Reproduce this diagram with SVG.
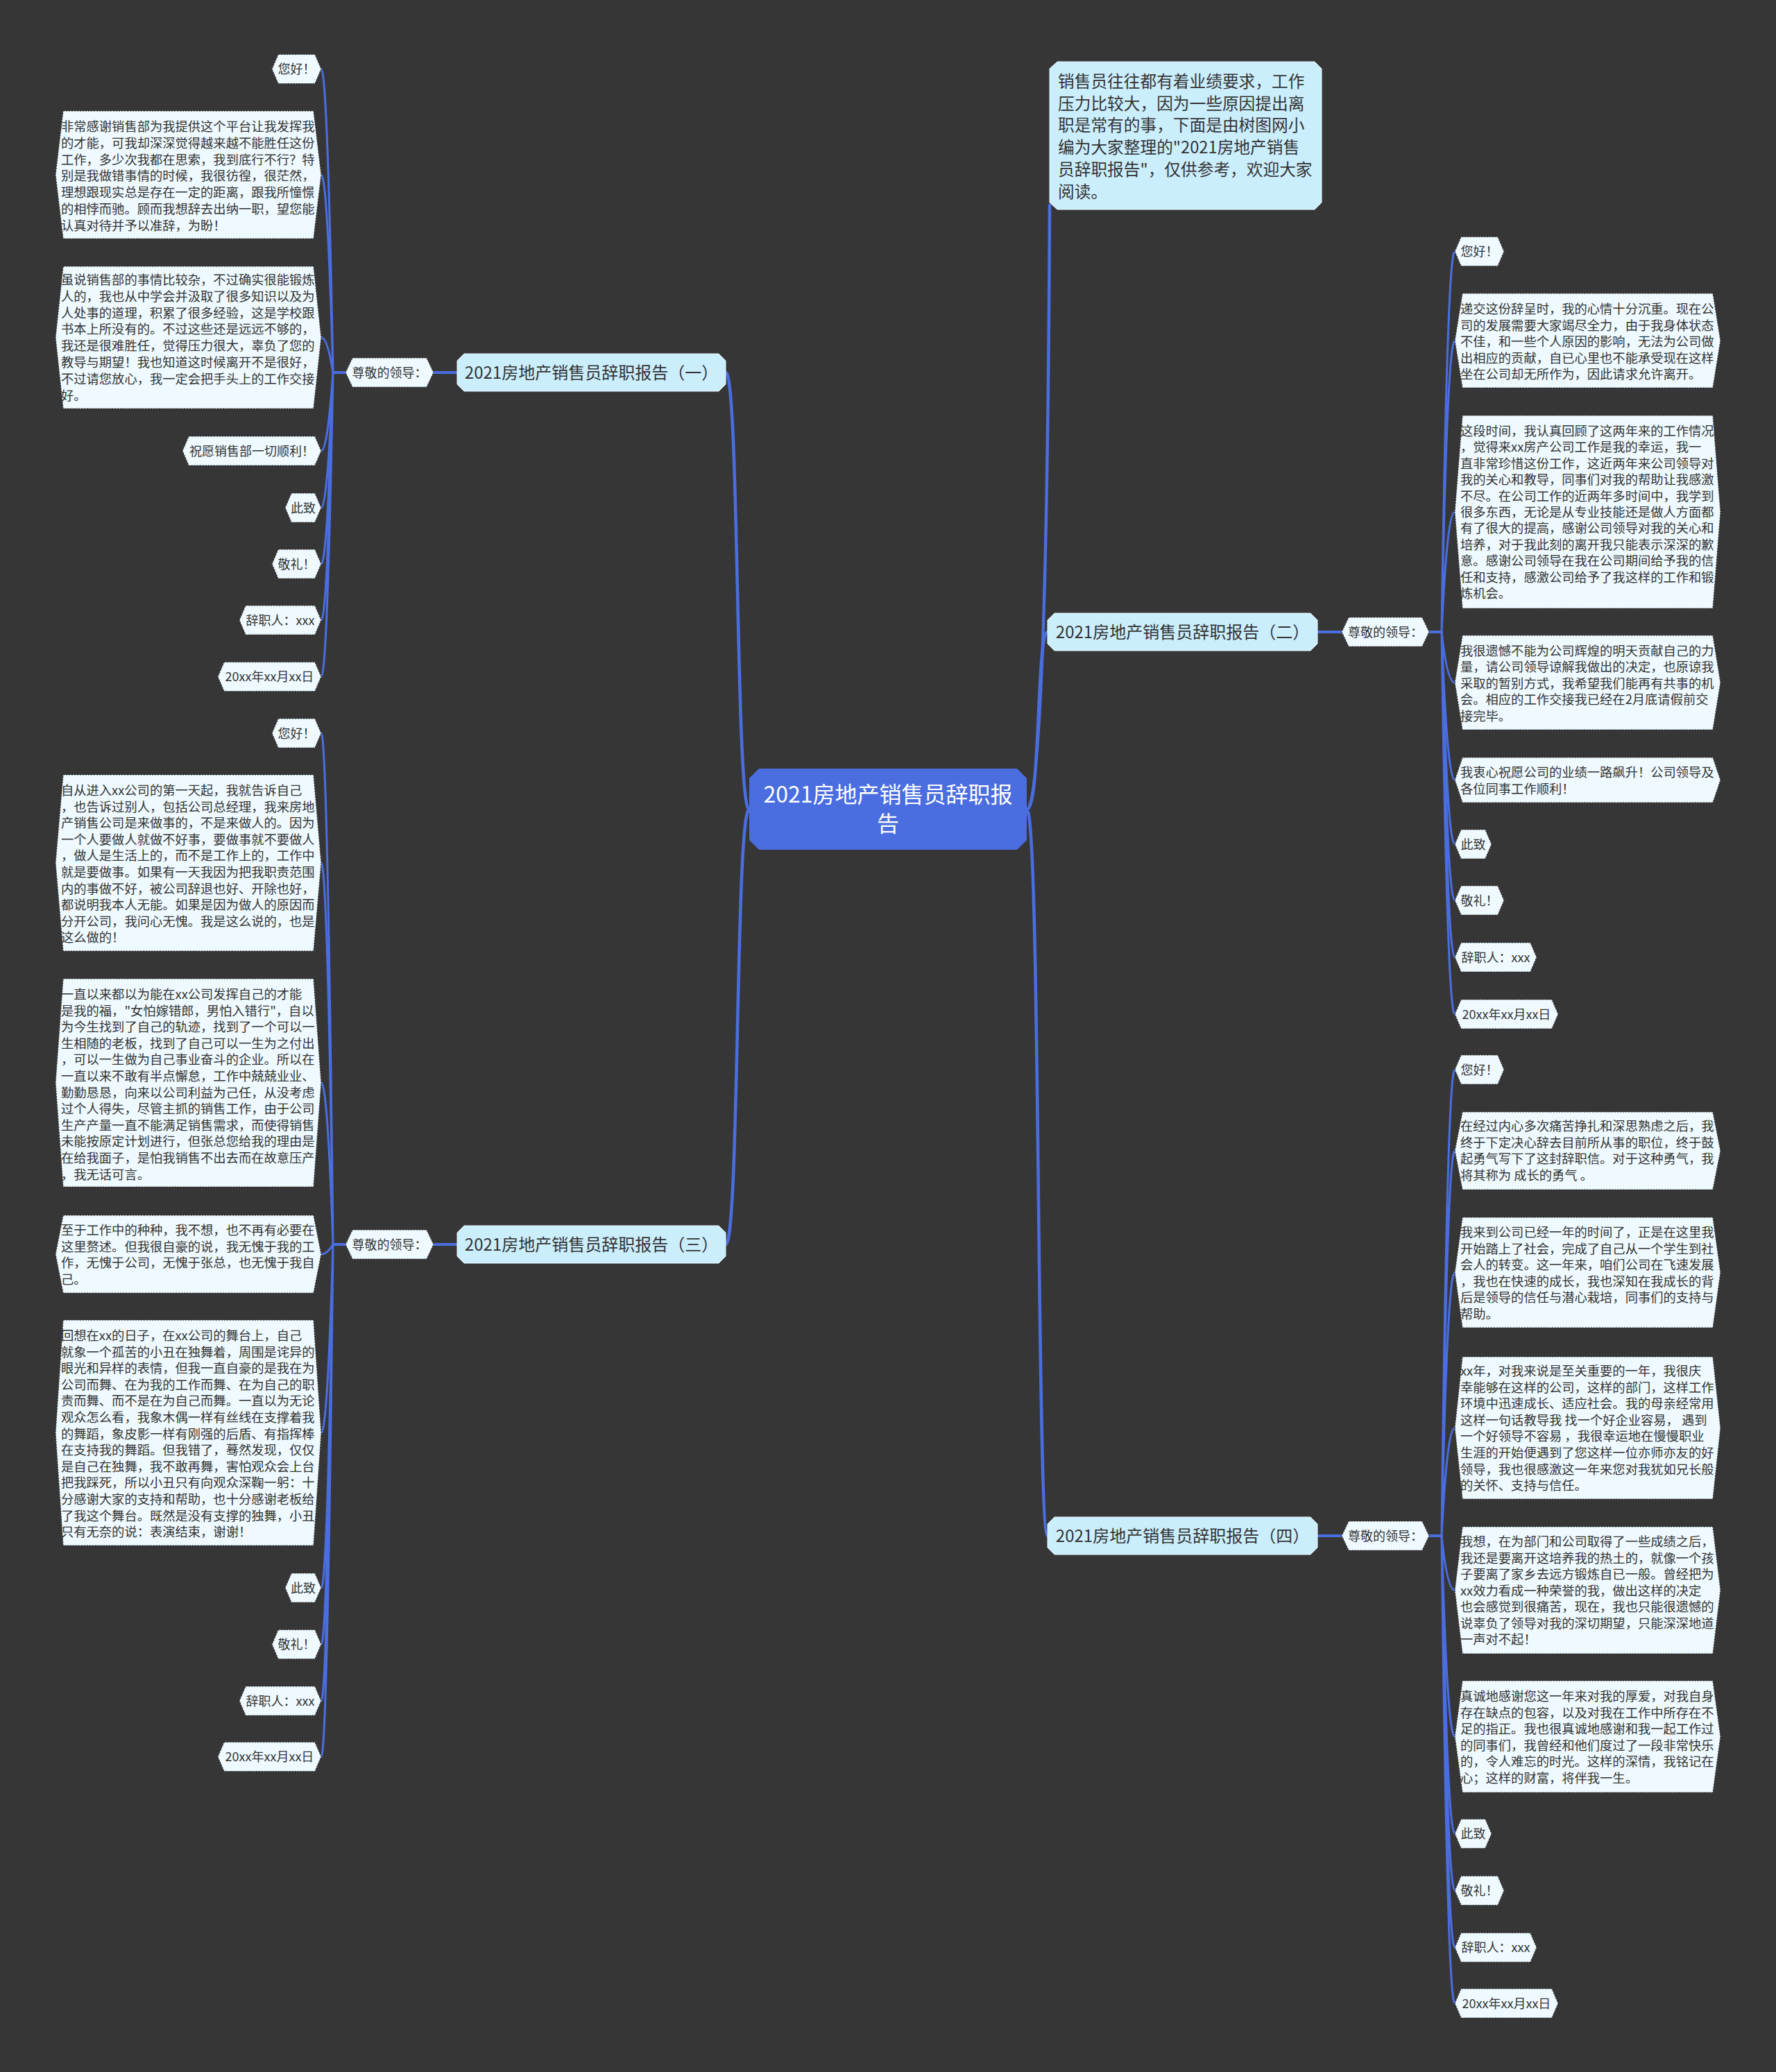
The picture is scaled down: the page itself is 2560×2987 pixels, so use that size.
<svg xmlns="http://www.w3.org/2000/svg" width="2560" height="2987" viewBox="0 0 2560 2987">
<style>
.t{font-family:"Noto Sans CJK SC","Liberation Sans",sans-serif;fill:#333333;font-size:18.3px}
.s{font-family:"Noto Sans CJK SC","Liberation Sans",sans-serif;fill:#333333;font-size:18px;text-anchor:middle}
.b{font-family:"Noto Sans CJK SC","Liberation Sans",sans-serif;fill:#333333;font-size:24px;text-anchor:middle}
.leaf{fill:#eefaff;stroke:#2e2e2e;stroke-width:1.2;stroke-dasharray:2 2}
.br{fill:#cbeefd;stroke:#e6f7fe;stroke-width:1}
.lk{fill:none;stroke:#4a6ee0;stroke-linecap:round}
.l1{stroke-width:4.5}
.l2{stroke-width:4}
.l3{stroke-width:3}
</style>
<rect x="0" y="0" width="2560" height="2987" fill="#373637"/>
<g id="connectors">
<path class="lk l1" d="M1080,1167 C1060,1167 1066,537 1046,537"/>
<path class="lk l1" d="M1080,1167 C1060,1167 1066,1794 1046,1794"/>
<path class="lk l1" d="M1480,1167 C1500,1167 1494,911 1510,911"/>
<path class="lk l1" d="M1480,1167 C1500,1167 1494,2214 1510,2214"/>
<path class="lk l1" d="M1480,1167 C1508,1167 1512,500 1513,296"/>
<path class="lk l2" d="M659,537 L625,537 M498,537 L480,537"/>
<path class="lk l2" d="M659,1794 L625,1794 M498,1794 L480,1794"/>
<path class="lk l2" d="M1899,911 L1934,911 M2060,911 L2078,911"/>
<path class="lk l2" d="M1899,2214 L1934,2214 M2060,2214 L2078,2214"/>
<path class="lk l3" d="M480,537 Q472,99.5 463,99.5 M480,537 Q472,252 463,252 M480,537 Q472,486.5 463,486.5 M480,537 Q472,650 463,650 M480,537 Q472,732 463,732 M480,537 Q472,813 463,813 M480,537 Q472,894 463,894 M480,537 Q472,975.5 463,975.5"/>
<path class="lk l3" d="M480,1794 Q472,1057 463,1057 M480,1794 Q472,1244 463,1244 M480,1794 Q472,1561 463,1561 M480,1794 Q472,1808 463,1808 M480,1794 Q472,2065.5 463,2065.5 M480,1794 Q472,2289 463,2289 M480,1794 Q472,2370.5 463,2370.5 M480,1794 Q472,2452 463,2452 M480,1794 Q472,2532.5 463,2532.5"/>
<path class="lk l3" d="M2078,911 Q2086,362.5 2097,362.5 M2078,911 Q2086,491 2097,491 M2078,911 Q2086,738 2097,738 M2078,911 Q2086,984 2097,984 M2078,911 Q2086,1124.5 2097,1124.5 M2078,911 Q2086,1217 2097,1217 M2078,911 Q2086,1298 2097,1298 M2078,911 Q2086,1380 2097,1380 M2078,911 Q2086,1462 2097,1462"/>
<path class="lk l3" d="M2078,2214 Q2086,1542 2097,1542 M2078,2214 Q2086,1659 2097,1659 M2078,2214 Q2086,1834.5 2097,1834.5 M2078,2214 Q2086,2058.5 2097,2058.5 M2078,2214 Q2086,2292.5 2097,2292.5 M2078,2214 Q2086,2503.5 2097,2503.5 M2078,2214 Q2086,2643.5 2097,2643.5 M2078,2214 Q2086,2725.5 2097,2725.5 M2078,2214 Q2086,2807.5 2097,2807.5 M2078,2214 Q2086,2888 2097,2888"/>
</g>
<g id="center">
<polygon points="1094,1108 1466,1108 1480,1122 1480,1211 1466,1225 1094,1225 1080,1211 1080,1122" fill="#4a6ee0"/>
<text x="1280" y="1157" font-family="Noto Sans CJK SC, Liberation Sans, sans-serif" font-size="32" fill="#ffffff" text-anchor="middle">2021房地产销售员辞职报</text>
<text x="1280" y="1199" font-family="Noto Sans CJK SC, Liberation Sans, sans-serif" font-size="32" fill="#ffffff" text-anchor="middle">告</text>
</g>
<g id="intro">
<polygon points="1524,89 1895,89 1905,99 1905,292 1895,302 1524,302 1513,292 1513,99" class="br"/>
<text font-family="Noto Sans CJK SC, Liberation Sans, sans-serif" font-size="23.7" fill="#333333"><tspan x="1525" y="126">销售员往往都有着业绩要求，工作</tspan><tspan x="1525" dy="31.7">压力比较大，因为一些原因提出离</tspan><tspan x="1525" dy="31.7">职是常有的事，下面是由树图网小</tspan><tspan x="1525" dy="31.7">编为大家整理的"2021房地产销售</tspan><tspan x="1525" dy="31.7">员辞职报告"，仅供参考，欢迎大家</tspan><tspan x="1525" dy="31.7">阅读。</tspan></text>
</g>
<g id="branch1">
<polygon class="br" points="669,510 1036,510 1046,520 1046,554 1036,564 669,564 659,554 659,520"/>
<text class="b" x="852.5" y="546">2021房地产销售员辞职报告（一）</text>
</g>
<g id="branch3">
<polygon class="br" points="669,1767 1036,1767 1046,1777 1046,1811 1036,1821 669,1821 659,1811 659,1777"/>
<text class="b" x="852.5" y="1803">2021房地产销售员辞职报告（三）</text>
</g>
<g id="branch2">
<polygon class="br" points="1520,884 1889,884 1899,894 1899,928 1889,938 1520,938 1510,928 1510,894"/>
<text class="b" x="1704.5" y="920">2021房地产销售员辞职报告（二）</text>
</g>
<g id="branch4">
<polygon class="br" points="1520,2187 1889,2187 1899,2197 1899,2231 1889,2241 1520,2241 1510,2231 1510,2197"/>
<text class="b" x="1704.5" y="2223">2021房地产销售员辞职报告（四）</text>
</g>
<g id="sub1">
<polygon class="leaf" points="508,516 615,516 625,537 615,558 508,558 498,537"/>
<text class="s" x="561.5" y="543.5">尊敬的领导：</text>
</g>
<g id="sub3">
<polygon class="leaf" points="508,1773 615,1773 625,1794 615,1815 508,1815 498,1794"/>
<text class="s" x="561.5" y="1800.5">尊敬的领导：</text>
</g>
<g id="sub2">
<polygon class="leaf" points="1944,890 2050,890 2060,911 2050,932 1944,932 1934,911"/>
<text class="s" x="1997" y="917.5">尊敬的领导：</text>
</g>
<g id="sub4">
<polygon class="leaf" points="1944,2193 2050,2193 2060,2214 2050,2235 1944,2235 1934,2214"/>
<text class="s" x="1997" y="2220.5">尊敬的领导：</text>
</g>
<!-- branch 1 leaves -->
<g id="b1-hello"><polygon class="leaf" points="401,78.5 454,78.5 463,99.5 454,120.5 401,120.5 392,99.5"/><text class="s" x="427.5" y="106">您好！</text></g>
<g id="b1-p1"><polygon class="leaf" points="91,160 452,160 463,252 452,344 91,344 80,252"/>
<text class="t"><tspan x="88" y="189">非常感谢销售部为我提供这个平台让我发挥我</tspan><tspan x="88" dy="23.8">的才能，可我却深深觉得越来越不能胜任这份</tspan><tspan x="88" dy="23.8">工作，多少次我都在思索，我到底行不行？特</tspan><tspan x="88" dy="23.8">别是我做错事情的时候，我很彷徨，很茫然，</tspan><tspan x="88" dy="23.8">理想跟现实总是存在一定的距离，跟我所憧憬</tspan><tspan x="88" dy="23.8">的相悖而驰。顾而我想辞去出纳一职，望您能</tspan><tspan x="88" dy="23.8">认真对待并予以准辞，为盼！</tspan></text></g>
<g id="b1-p2"><polygon class="leaf" points="91,384 452,384 463,486.5 452,589 91,589 80,486.5"/>
<text class="t"><tspan x="88" y="410">虽说销售部的事情比较杂，不过确实很能锻炼</tspan><tspan x="88" dy="23.8">人的，我也从中学会并汲取了很多知识以及为</tspan><tspan x="88" dy="23.8">人处事的道理，积累了很多经验，这是学校跟</tspan><tspan x="88" dy="23.8">书本上所没有的。不过这些还是远远不够的，</tspan><tspan x="88" dy="23.8">我还是很难胜任，觉得压力很大，辜负了您的</tspan><tspan x="88" dy="23.8">教导与期望！我也知道这时候离开不是很好，</tspan><tspan x="88" dy="23.8">不过请您放心，我一定会把手头上的工作交接</tspan><tspan x="88" dy="23.8">好。</tspan></text></g>
<g id="b1-wish"><polygon class="leaf" points="272,629 454,629 463,650 454,671 272,671 263,650"/><text class="s" x="363" y="656.5">祝愿销售部一切顺利！</text></g>
<g id="b1-cizhi"><polygon class="leaf" points="420,711 454,711 463,732 454,753 420,753 411,732"/><text class="s" x="437" y="738.5">此致</text></g>
<g id="b1-jingli"><polygon class="leaf" points="401,792 454,792 463,813 454,834 401,834 392,813"/><text class="s" x="427.5" y="819.5">敬礼！</text></g>
<g id="b1-name"><polygon class="leaf" points="354,873 454,873 463,894 454,915 354,915 345,894"/><text class="s" x="404" y="900.5">辞职人：xxx</text></g>
<g id="b1-date"><polygon class="leaf" points="323,954.5 454,954.5 463,975.5 454,996.5 323,996.5 314,975.5"/><text class="s" x="388.5" y="982">20xx年xx月xx日</text></g>
<!-- branch 3 leaves -->
<g id="b3-hello"><polygon class="leaf" points="401,1036 454,1036 463,1057 454,1078 401,1078 392,1057"/><text class="s" x="427.5" y="1063.5">您好！</text></g>
<g id="b3-p1"><polygon class="leaf" points="91,1117 452,1117 463,1244 452,1371 91,1371 80,1244"/>
<text class="t"><tspan x="88" y="1146">自从进入xx公司的第一天起，我就告诉自己</tspan><tspan x="88" dy="23.6">，也告诉过别人，包括公司总经理，我来房地</tspan><tspan x="88" dy="23.6">产销售公司是来做事的，不是来做人的。因为</tspan><tspan x="88" dy="23.6">一个人要做人就做不好事，要做事就不要做人</tspan><tspan x="88" dy="23.6">，做人是生活上的，而不是工作上的，工作中</tspan><tspan x="88" dy="23.6">就是要做事。如果有一天我因为把我职责范围</tspan><tspan x="88" dy="23.6">内的事做不好，被公司辞退也好、开除也好，</tspan><tspan x="88" dy="23.6">都说明我本人无能。如果是因为做人的原因而</tspan><tspan x="88" dy="23.6">分开公司，我问心无愧。我是这么说的，也是</tspan><tspan x="88" dy="23.6">这么做的！</tspan></text></g>
<g id="b3-p2"><polygon class="leaf" points="91,1411 452,1411 463,1561 452,1711 91,1711 80,1561"/>
<text class="t"><tspan x="88" y="1440">一直以来都以为能在xx公司发挥自己的才能</tspan><tspan x="88" dy="23.6">是我的福，"女怕嫁错郎，男怕入错行"，自以</tspan><tspan x="88" dy="23.6">为今生找到了自己的轨迹，找到了一个可以一</tspan><tspan x="88" dy="23.6">生相随的老板，找到了自己可以一生为之付出</tspan><tspan x="88" dy="23.6">，可以一生做为自己事业奋斗的企业。所以在</tspan><tspan x="88" dy="23.6">一直以来不敢有半点懈怠，工作中兢兢业业、</tspan><tspan x="88" dy="23.6">勤勤恳恳，向来以公司利益为己任，从没考虑</tspan><tspan x="88" dy="23.6">过个人得失，尽管主抓的销售工作，由于公司</tspan><tspan x="88" dy="23.6">生产产量一直不能满足销售需求，而使得销售</tspan><tspan x="88" dy="23.6">未能按原定计划进行，但张总您给我的理由是</tspan><tspan x="88" dy="23.6">在给我面子，是怕我销售不出去而在故意压产</tspan><tspan x="88" dy="23.6">，我无话可言。</tspan></text></g>
<g id="b3-p3"><polygon class="leaf" points="91,1752 452,1752 463,1808 452,1864 91,1864 80,1808"/>
<text class="t"><tspan x="88" y="1780">至于工作中的种种，我不想，也不再有必要在</tspan><tspan x="88" dy="23.6">这里赘述。但我很自豪的说，我无愧于我的工</tspan><tspan x="88" dy="23.6">作，无愧于公司，无愧于张总，也无愧于我自</tspan><tspan x="88" dy="23.6">己。</tspan></text></g>
<g id="b3-p4"><polygon class="leaf" points="91,1903 452,1903 463,2065.5 452,2228 91,2228 80,2065.5"/>
<text class="t"><tspan x="88" y="1932">回想在xx的日子，在xx公司的舞台上，自己</tspan><tspan x="88" dy="23.6">就象一个孤苦的小丑在独舞着，周围是诧异的</tspan><tspan x="88" dy="23.6">眼光和异样的表情，但我一直自豪的是我在为</tspan><tspan x="88" dy="23.6">公司而舞、在为我的工作而舞、在为自己的职</tspan><tspan x="88" dy="23.6">责而舞、而不是在为自己而舞。一直以为无论</tspan><tspan x="88" dy="23.6">观众怎么看，我象木偶一样有丝线在支撑着我</tspan><tspan x="88" dy="23.6">的舞蹈，象皮影一样有刚强的后盾、有指挥棒</tspan><tspan x="88" dy="23.6">在支持我的舞蹈。但我错了，蓦然发现，仅仅</tspan><tspan x="88" dy="23.6">是自己在独舞，我不敢再舞，害怕观众会上台</tspan><tspan x="88" dy="23.6">把我踩死，所以小丑只有向观众深鞠一躬：十</tspan><tspan x="88" dy="23.6">分感谢大家的支持和帮助，也十分感谢老板给</tspan><tspan x="88" dy="23.6">了我这个舞台。既然是没有支撑的独舞，小丑</tspan><tspan x="88" dy="23.6">只有无奈的说：表演结束，谢谢！</tspan></text></g>
<g id="b3-cizhi"><polygon class="leaf" points="420,2268 454,2268 463,2289 454,2310 420,2310 411,2289"/><text class="s" x="437" y="2295.5">此致</text></g>
<g id="b3-jingli"><polygon class="leaf" points="401,2349.5 454,2349.5 463,2370.5 454,2391.5 401,2391.5 392,2370.5"/><text class="s" x="427.5" y="2377">敬礼！</text></g>
<g id="b3-name"><polygon class="leaf" points="354,2431 454,2431 463,2452 454,2473 354,2473 345,2452"/><text class="s" x="404" y="2458.5">辞职人：xxx</text></g>
<g id="b3-date"><polygon class="leaf" points="323,2511.5 454,2511.5 463,2532.5 454,2553.5 323,2553.5 314,2532.5"/><text class="s" x="388.5" y="2539">20xx年xx月xx日</text></g>
<!-- branch 2 leaves -->
<g id="b2-hello"><polygon class="leaf" points="2097,362.5 2106,341.5 2159,341.5 2168,362.5 2159,383.5 2106,383.5"/><text class="s" x="2132.5" y="369">您好！</text></g>
<g id="b2-p1"><polygon class="leaf" points="2097,491 2108,423 2469,423 2480,491 2469,559 2108,559"/>
<text class="t"><tspan x="2105" y="452">递交这份辞呈时，我的心情十分沉重。现在公</tspan><tspan x="2105" dy="23.6">司的发展需要大家竭尽全力，由于我身体状态</tspan><tspan x="2105" dy="23.6">不佳，和一些个人原因的影响，无法为公司做</tspan><tspan x="2105" dy="23.6">出相应的贡献，自已心里也不能承受现在这样</tspan><tspan x="2105" dy="23.6">坐在公司却无所作为，因此请求允许离开。</tspan></text></g>
<g id="b2-p2"><polygon class="leaf" points="2097,738 2108,599 2469,599 2480,738 2469,877 2108,877"/>
<text class="t"><tspan x="2105" y="628">这段时间，我认真回顾了这两年来的工作情况</tspan><tspan x="2105" dy="23.4">，觉得来xx房产公司工作是我的幸运，我一</tspan><tspan x="2105" dy="23.4">直非常珍惜这份工作，这近两年来公司领导对</tspan><tspan x="2105" dy="23.4">我的关心和教导，同事们对我的帮助让我感激</tspan><tspan x="2105" dy="23.4">不尽。在公司工作的近两年多时间中，我学到</tspan><tspan x="2105" dy="23.4">很多东西，无论是从专业技能还是做人方面都</tspan><tspan x="2105" dy="23.4">有了很大的提高，感谢公司领导对我的关心和</tspan><tspan x="2105" dy="23.4">培养，对于我此刻的离开我只能表示深深的歉</tspan><tspan x="2105" dy="23.4">意。感谢公司领导在我在公司期间给予我的信</tspan><tspan x="2105" dy="23.4">任和支持，感激公司给予了我这样的工作和锻</tspan><tspan x="2105" dy="23.4">炼机会。</tspan></text></g>
<g id="b2-p3"><polygon class="leaf" points="2097,984 2108,916 2469,916 2480,984 2469,1052 2108,1052"/>
<text class="t"><tspan x="2105" y="945">我很遗憾不能为公司辉煌的明天贡献自己的力</tspan><tspan x="2105" dy="23.4">量，请公司领导谅解我做出的决定，也原谅我</tspan><tspan x="2105" dy="23.4">采取的暂别方式，我希望我们能再有共事的机</tspan><tspan x="2105" dy="23.4">会。相应的工作交接我已经在2月底请假前交</tspan><tspan x="2105" dy="23.4">接完毕。</tspan></text></g>
<g id="b2-p4"><polygon class="leaf" points="2097,1124.5 2108,1092 2469,1092 2480,1124.5 2469,1157 2108,1157"/>
<text class="t"><tspan x="2105" y="1120">我衷心祝愿公司的业绩一路飙升！公司领导及</tspan><tspan x="2105" dy="23.6">各位同事工作顺利！</tspan></text></g>
<g id="b2-cizhi"><polygon class="leaf" points="2097,1217 2106,1196 2141,1196 2150,1217 2141,1238 2106,1238"/><text class="s" x="2123.5" y="1223.5">此致</text></g>
<g id="b2-jingli"><polygon class="leaf" points="2097,1298 2106,1277 2159,1277 2168,1298 2159,1319 2106,1319"/><text class="s" x="2132.5" y="1304.5">敬礼！</text></g>
<g id="b2-name"><polygon class="leaf" points="2097,1380 2106,1359 2206,1359 2215,1380 2206,1401 2106,1401"/><text class="s" x="2156" y="1386.5">辞职人：xxx</text></g>
<g id="b2-date"><polygon class="leaf" points="2097,1462 2106,1441 2237,1441 2246,1462 2237,1483 2106,1483"/><text class="s" x="2171.5" y="1468.5">20xx年xx月xx日</text></g>
<!-- branch 4 leaves -->
<g id="b4-hello"><polygon class="leaf" points="2097,1542 2106,1521 2159,1521 2168,1542 2159,1563 2106,1563"/><text class="s" x="2132.5" y="1548.5">您好！</text></g>
<g id="b4-p1"><polygon class="leaf" points="2097,1659 2108,1603 2469,1603 2480,1659 2469,1715 2108,1715"/>
<text class="t"><tspan x="2105" y="1630">在经过内心多次痛苦挣扎和深思熟虑之后，我</tspan><tspan x="2105" dy="23.6">终于下定决心辞去目前所从事的职位，终于鼓</tspan><tspan x="2105" dy="23.6">起勇气写下了这封辞职信。对于这种勇气，我</tspan><tspan x="2105" dy="23.6">将其称为 成长的勇气 。</tspan></text></g>
<g id="b4-p2"><polygon class="leaf" points="2097,1834.5 2108,1755 2469,1755 2480,1834.5 2469,1914 2108,1914"/>
<text class="t"><tspan x="2105" y="1783">我来到公司已经一年的时间了，正是在这里我</tspan><tspan x="2105" dy="23.6">开始踏上了社会，完成了自己从一个学生到社</tspan><tspan x="2105" dy="23.6">会人的转变。这一年来，咱们公司在飞速发展</tspan><tspan x="2105" dy="23.6">，我也在快速的成长，我也深知在我成长的背</tspan><tspan x="2105" dy="23.6">后是领导的信任与潜心栽培，同事们的支持与</tspan><tspan x="2105" dy="23.6">帮助。</tspan></text></g>
<g id="b4-p3"><polygon class="leaf" points="2097,2058.5 2108,1956 2469,1956 2480,2058.5 2469,2161 2108,2161"/>
<text class="t"><tspan x="2105" y="1983">xx年，对我来说是至关重要的一年，我很庆</tspan><tspan x="2105" dy="23.6">幸能够在这样的公司，这样的部门，这样工作</tspan><tspan x="2105" dy="23.6">环境中迅速成长、适应社会。我的母亲经常用</tspan><tspan x="2105" dy="23.6">这样一句话教导我 找一个好企业容易， 遇到</tspan><tspan x="2105" dy="23.6">一个好领导不容易 ，我很幸运地在慢慢职业</tspan><tspan x="2105" dy="23.6">生涯的开始便遇到了您这样一位亦师亦友的好</tspan><tspan x="2105" dy="23.6">领导，我也很感激这一年来您对我犹如兄长般</tspan><tspan x="2105" dy="23.6">的关怀、支持与信任。</tspan></text></g>
<g id="b4-p4"><polygon class="leaf" points="2097,2292.5 2108,2201 2469,2201 2480,2292.5 2469,2384 2108,2384"/>
<text class="t"><tspan x="2105" y="2229">我想，在为部门和公司取得了一些成绩之后，</tspan><tspan x="2105" dy="23.5">我还是要离开这培养我的热土的，就像一个孩</tspan><tspan x="2105" dy="23.5">子要离了家乡去远方锻炼自已一般。曾经把为</tspan><tspan x="2105" dy="23.5">xx效力看成一种荣誉的我，做出这样的决定</tspan><tspan x="2105" dy="23.5">也会感觉到很痛苦，现在，我也只能很遗憾的</tspan><tspan x="2105" dy="23.5">说辜负了领导对我的深切期望，只能深深地道</tspan><tspan x="2105" dy="23.5">一声对不起！</tspan></text></g>
<g id="b4-p5"><polygon class="leaf" points="2097,2503.5 2108,2423 2469,2423 2480,2503.5 2469,2584 2108,2584"/>
<text class="t"><tspan x="2105" y="2452">真诚地感谢您这一年来对我的厚爱，对我自身</tspan><tspan x="2105" dy="23.5">存在缺点的包容，以及对我在工作中所存在不</tspan><tspan x="2105" dy="23.5">足的指正。我也很真诚地感谢和我一起工作过</tspan><tspan x="2105" dy="23.5">的同事们，我曾经和他们度过了一段非常快乐</tspan><tspan x="2105" dy="23.5">的，令人难忘的时光。这样的深情，我铭记在</tspan><tspan x="2105" dy="23.5">心；这样的财富，将伴我一生。</tspan></text></g>
<g id="b4-cizhi"><polygon class="leaf" points="2097,2643.5 2106,2622.5 2141,2622.5 2150,2643.5 2141,2664.5 2106,2664.5"/><text class="s" x="2123.5" y="2650">此致</text></g>
<g id="b4-jingli"><polygon class="leaf" points="2097,2725.5 2106,2704.5 2159,2704.5 2168,2725.5 2159,2746.5 2106,2746.5"/><text class="s" x="2132.5" y="2732">敬礼！</text></g>
<g id="b4-name"><polygon class="leaf" points="2097,2807.5 2106,2786.5 2206,2786.5 2215,2807.5 2206,2828.5 2106,2828.5"/><text class="s" x="2156" y="2814">辞职人：xxx</text></g>
<g id="b4-date"><polygon class="leaf" points="2097,2888 2106,2867 2237,2867 2246,2888 2237,2909 2106,2909"/><text class="s" x="2171.5" y="2894.5">20xx年xx月xx日</text></g>
</svg>
